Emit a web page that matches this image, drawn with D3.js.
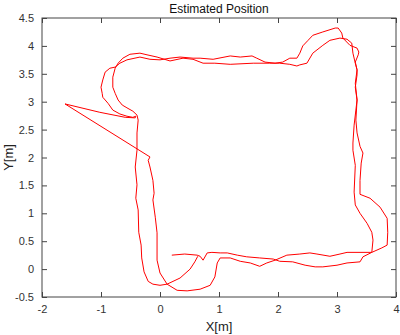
<!DOCTYPE html>
<html><head><meta charset="utf-8">
<script src="https://cdn.jsdelivr.net/npm/d3@7"></script>
<style>body{margin:0;background:#fff}svg{display:block}text{font-family:"Liberation Sans",Arial,sans-serif}</style>
</head><body><svg id="c" width="400" height="335"></svg>
<script>
const titleText = "Estimated Position";
const xLabel = "X[m]";
const yLabel = "Y[m]";
const xTicks = [-2,-1,0,1,2,3,4];
const yTicks = [-0.5,0,0.5,1,1.5,2,2.5,3,3.5,4,4.5];
const pathX = [0.20,0.42,0.63,0.68,0.73,0.80,0.88,1.02,1.14,1.31,1.47,1.69,1.92,2.03,2.25,2.46,2.63,2.76,3.00,3.17,3.39,3.44,3.59,
 3.61,3.59,3.51,3.39,3.31,3.29,3.31,3.27,3.27,3.29,3.32,3.34,3.31,3.34,3.34,3.31,
 3.36,3.37,3.34,3.22,3.10,3.08,3.02,2.97,2.76,2.59,2.51,2.42,2.37,2.32,
 2.20,2.08,1.95,1.78,1.64,1.56,1.36,1.19,0.90,0.68,0.56,0.34,0.17,
 0.00,-0.17,-0.34,-0.56,-0.68,-0.76,-0.85,-0.93,-0.97,-1.00,-0.98,-0.97,-0.88,-0.80,-0.68,-0.56,-0.46,-0.41,-0.42,-0.59,-1.02,-1.61,
 -0.17,-0.20,-0.17,-0.12,-0.10,-0.12,-0.08,-0.05,-0.05,0.00,0.12,0.29,0.46,0.68,0.85,0.93,0.97,1.02,
 1.19,1.36,1.53,1.69,1.81,1.95,2.15,2.37,2.54,2.66,2.88,3.05,3.17,3.39,3.59,
 3.76,3.85,3.86,3.85,3.73,3.56,3.39,3.39,3.41,3.44,3.39,3.34,3.32,3.34,3.31,3.34,3.31,
 3.27,3.25,3.17,3.05,2.88,2.76,2.59,2.49,2.37,2.32,2.20,2.03,1.86,1.58,1.19,0.93,0.73,0.56,0.39,0.17,
 -0.05,-0.22,-0.34,-0.51,-0.63,-0.71,-0.76,-0.80,-0.80,-0.76,-0.71,-0.64,-0.56,-0.46,-0.39,-0.37,-0.39,-0.39,-0.42,-0.39,-0.41,-0.37,-0.36,-0.32,-0.31,-0.27,-0.20,-0.12,0.00,0.12,0.34,0.51,0.59,0.64];
const pathY = [0.25,0.27,0.25,0.23,0.16,0.29,0.30,0.29,0.29,0.25,0.22,0.20,0.18,0.14,0.13,0.07,0.04,0.04,0.07,0.11,0.13,0.22,0.30,
 0.52,0.66,0.82,1.00,1.15,1.38,1.86,2.13,2.26,2.58,2.85,3.03,3.26,3.48,3.57,3.71,
 3.84,3.89,3.96,4.01,4.14,4.23,4.32,4.32,4.25,4.19,4.10,4.00,3.87,3.78,
 3.78,3.71,3.69,3.71,3.78,3.82,3.80,3.82,3.76,3.78,3.78,3.80,3.78,
 3.75,3.76,3.80,3.75,3.69,3.62,3.60,3.53,3.39,3.26,3.15,3.08,2.97,2.85,2.78,2.74,2.72,2.74,2.71,2.72,2.81,2.96,
 2.01,1.95,1.83,1.59,1.36,1.24,0.93,0.65,0.16,-0.07,-0.27,-0.38,-0.39,-0.36,-0.29,-0.14,0.11,0.20,
 0.20,0.14,0.11,0.05,0.11,0.16,0.25,0.27,0.29,0.27,0.23,0.27,0.30,0.30,0.30,
 0.38,0.43,0.66,0.91,1.11,1.27,1.34,1.59,1.90,2.08,2.20,2.44,2.67,3.03,3.33,3.57,3.69,
 3.87,4.05,4.12,4.14,4.10,4.01,3.87,3.69,3.66,3.64,3.67,3.69,3.69,3.69,3.67,3.69,3.69,3.76,3.78,3.73,
 3.80,3.84,3.87,3.85,3.78,3.69,3.60,3.44,3.26,3.15,3.03,2.94,2.89,2.83,2.76,2.67,2.44,2.13,1.83,1.51,1.27,1.06,0.66,0.43,0.20,-0.05,-0.22,-0.27,-0.29,-0.27,-0.16,0.00,0.13,0.23];

const W = 400, H = 335;
const m = {l:42, r:4, t:18, b:38};
const svg = d3.select("#c");
const x = d3.scaleLinear().domain([-2,4]).range([m.l, W-m.r]);
const y = d3.scaleLinear().domain([-0.5,4.5]).range([H-m.b, m.t]);
const axisColor = "#444";
const fmt = d => String(d);

function styleAxis(g, hideText){
  g.select(".domain").remove();
  g.selectAll(".tick line").attr("stroke", axisColor);
  g.selectAll(".tick text").attr("fill","#333").style("font-size","11px");
  if(hideText) g.selectAll(".tick text").remove();
}
const tl = 5;
svg.append("g").attr("transform",`translate(0,${y(-0.5)})`)
  .call(d3.axisBottom(x).tickValues(xTicks).tickFormat(fmt).tickSizeInner(-tl).tickSizeOuter(0).tickPadding(8))
  .call(g=>styleAxis(g,false));
svg.append("g").attr("transform",`translate(0,${y(4.5)})`)
  .call(d3.axisTop(x).tickValues(xTicks).tickSizeInner(-tl).tickSizeOuter(0))
  .call(g=>styleAxis(g,true));
svg.append("g").attr("transform",`translate(${x(-2)},0)`)
  .call(d3.axisLeft(y).tickValues(yTicks).tickFormat(fmt).tickSizeInner(-tl).tickSizeOuter(0).tickPadding(8))
  .call(g=>styleAxis(g,false));
svg.append("g").attr("transform",`translate(${x(4)},0)`)
  .call(d3.axisRight(y).tickValues(yTicks).tickSizeInner(-tl).tickSizeOuter(0))
  .call(g=>styleAxis(g,true));

svg.append("rect").attr("x",x(-2)).attr("y",y(4.5)).attr("width",x(4)-x(-2)).attr("height",y(-0.5)-y(4.5))
  .attr("fill","none").attr("stroke",axisColor).attr("stroke-width",1);

const pts = pathX.map((v,i)=>[v,pathY[i]]);
svg.append("path").datum(pts)
  .attr("d", d3.line().x(d=>x(d[0])).y(d=>y(d[1])))
  .attr("fill","none").attr("stroke","#ff0000").attr("stroke-width",1).attr("stroke-linejoin","round");

svg.append("text").attr("x",(x(-2)+x(4))/2).attr("y",13).attr("text-anchor","middle")
  .style("font-size","12px").attr("fill","#111").text(titleText);
svg.append("text").attr("x",(x(-2)+x(4))/2).attr("y",331).attr("text-anchor","middle")
  .style("font-size","13px").attr("fill","#222").text(xLabel);
svg.append("text").attr("transform",`translate(13,${(y(-0.5)+y(4.5))/2}) rotate(-90)`).attr("text-anchor","middle")
  .style("font-size","13px").attr("fill","#222").text(yLabel);
</script></body></html>
